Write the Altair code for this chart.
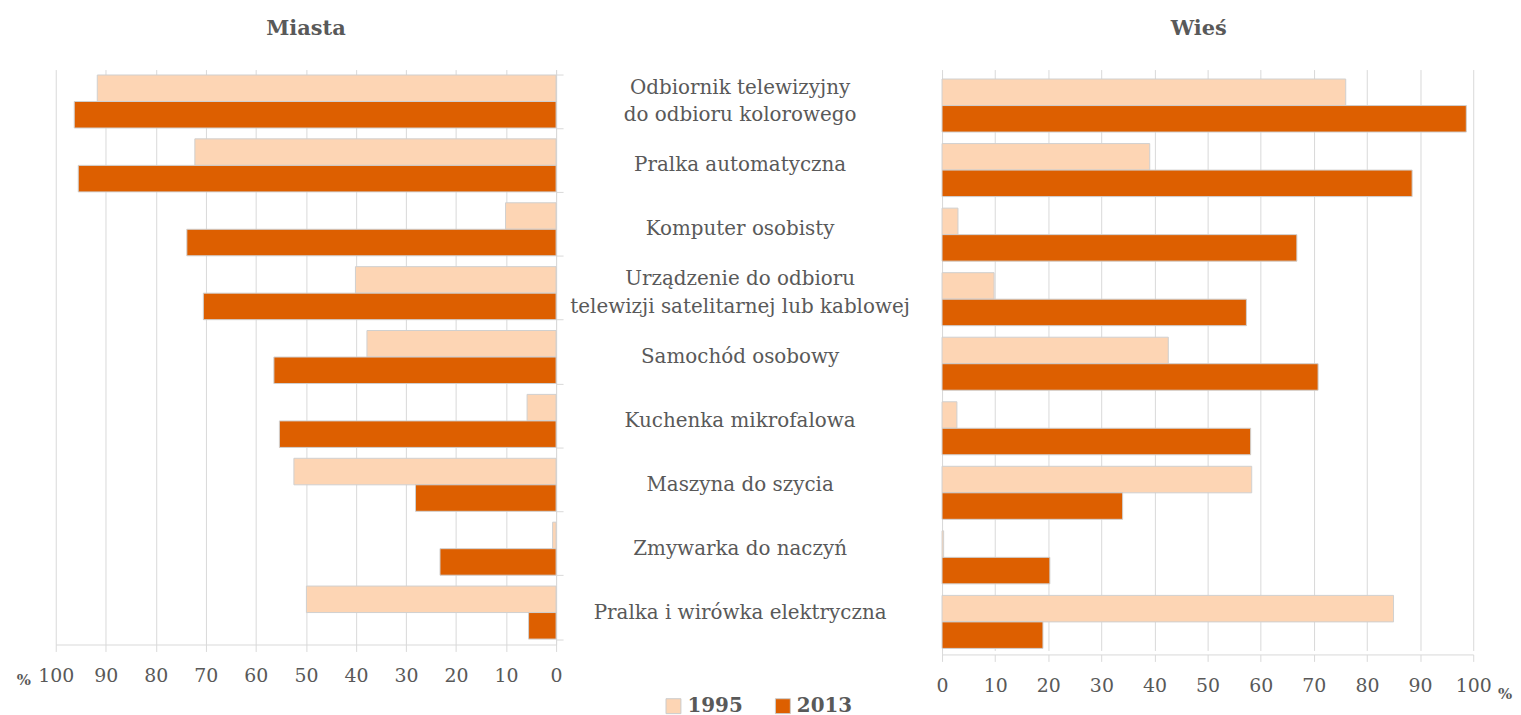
import altair as alt
import pandas as pd

# ---- data ----
cat_ids = ["tv", "pralka_auto", "komputer", "sat", "samochod", "mikrofala", "szycie", "zmywarka", "wirowka"]
cat_labels = [
    "Odbiornik telewizyjny\ndo odbioru kolorowego",
    "Pralka automatyczna",
    "Komputer osobisty",
    "Urządzenie do odbioru\ntelewizji satelitarnej lub kablowej",
    "Samochód osobowy",
    "Kuchenka mikrofalowa",
    "Maszyna do szycia",
    "Zmywarka do naczyń",
    "Pralka i wirówka elektryczna",
]
years = ["1995", "2013"]
miasta_1995 = [91.7, 72.2, 10.1, 40.1, 37.8, 5.8, 52.4, 0.7, 49.9]
miasta_2013 = [96.3, 95.5, 73.8, 70.5, 56.4, 55.3, 28.1, 23.2, 5.5]
wies_1995 = [76.0, 39.1, 3.0, 9.8, 42.6, 2.8, 58.3, 0.3, 85.0]
wies_2013 = [98.7, 88.5, 66.8, 57.3, 70.8, 58.1, 34.0, 20.3, 19.0]
tick_values = [0, 10, 20, 30, 40, 50, 60, 70, 80, 90, 100]

def long(v95, v13):
    rows = []
    for i, c in enumerate(cat_ids):
        rows.append({"cat": c, "year": "1995", "value": v95[i]})
        rows.append({"cat": c, "year": "2013", "value": v13[i]})
    return pd.DataFrame(rows)

df_m = long(miasta_1995, miasta_2013)
df_w = long(wies_1995, wies_2013)
df_lab = pd.DataFrame({"cat": cat_ids, "label": cat_labels,
                       "lines": [l.count("\n") + 1 for l in cat_labels]})

FONT = "DejaVu Serif"
GREY = "#595959"
GRID = "#d9d9d9"
LIGHT = "#FDD5B4"
DARK = "#DD5F00"

color = alt.Color(
    "year:N",
    scale=alt.Scale(domain=years, range=[LIGHT, DARK]),
    legend=alt.Legend(
        title=None, orient="none", direction="horizontal",
        legendX=611, legendY=630,
        symbolType="square", symbolSize=225, symbolStrokeColor="#cccccc",
        symbolStrokeWidth=1, labelFont=FONT, labelFontSize=20,
        labelFontWeight="bold", labelColor=GREY, columnPadding=30,
        labelOffset=4, padding=0,
    ),
)

def yenc(orient, ticks, rng=None):
    sc = alt.Scale(paddingInner=0.17, paddingOuter=0.085)
    if rng is not None:
        sc = alt.Scale(paddingInner=0.17, paddingOuter=0.085, range=rng)
    return alt.Y(
        "cat:N", sort=cat_ids, scale=sc,
        axis=alt.Axis(orient=orient, labels=False, ticks=ticks, tickSize=7,
                      tickBand="extent", tickColor=GRID, domainColor=GRID,
                      title=None, grid=False),
    )

def xaxis():
    return alt.Axis(values=tick_values, grid=True, gridColor=GRID, domainColor=GRID,
                    tickColor=GRID, tickSize=7, labelPadding=15, labelFont=FONT,
                    labelFontSize=19, labelColor=GREY, title=None, labelFlush=False)

LW, LH = 503, 578
RW, RH = 534, 588

left_bars = alt.Chart(df_m).mark_bar(stroke="#d0d0d0", strokeWidth=1).encode(
    x=alt.X("value:Q", scale=alt.Scale(domain=[0, 100], reverse=True, nice=False), axis=xaxis()),
    y=yenc("right", True),
    yOffset=alt.YOffset("year:N", sort=years),
    color=color,
)
left_pct = alt.Chart(pd.DataFrame({"t": ["%"]})).mark_text(
    font=FONT, fontSize=15, fontWeight="bold", color=GREY, baseline="middle", align="center"
).encode(text="t:N", x=alt.value(-32), y=alt.value(LH + 36))

left = alt.layer(left_bars, left_pct).properties(
    width=LW, height=LH,
    title=alt.TitleParams("Miasta", font=FONT, fontSize=21, fontWeight="bold",
                          color=GREY, anchor="middle", offset=31),
)

mid_y = alt.Y("cat:N", sort=cat_ids,
              scale=alt.Scale(paddingInner=0.17, paddingOuter=0.085), axis=None)
mid_base = alt.Chart(df_lab).encode(y=mid_y, x=alt.value(177), text="label:N")
mid_one = mid_base.transform_filter("datum.lines == 1").mark_text(
    font=FONT, fontSize=20, color=GREY, baseline="middle", align="center",
)
mid_two = mid_base.transform_filter("datum.lines == 2").mark_text(
    font=FONT, fontSize=20, color=GREY, lineBreak="\n", lineHeight=28,
    baseline="middle", align="center", dy=-14,
)
mid = alt.layer(mid_one, mid_two).properties(
    width=373, height=LH,
    title=alt.TitleParams(" ", font=FONT, fontSize=21, offset=31),
)

right_bars = alt.Chart(df_w).mark_bar(stroke="#d0d0d0", strokeWidth=1).encode(
    x=alt.X("value:Q", scale=alt.Scale(domain=[0, 100], nice=False), axis=xaxis()),
    y=yenc("left", False, [4, RH]),
    yOffset=alt.YOffset("year:N", sort=years),
    color=color,
)
right_pct = alt.Chart(pd.DataFrame({"t": ["%"]})).mark_text(
    font=FONT, fontSize=15, fontWeight="bold", color=GREY, baseline="middle", align="center"
).encode(text="t:N", x=alt.value(RW + 32), y=alt.value(RH + 40))

right = alt.layer(right_bars, right_pct).properties(
    width=RW, height=RH,
    title=alt.TitleParams("Wieś", font=FONT, fontSize=21, fontWeight="bold",
                          color=GREY, anchor="middle", offset=31, dx=-9),
)

chart = alt.hconcat(left, mid, right, spacing=0).properties(
    padding={"left": 8, "top": 8, "right": 0, "bottom": 0},
    background="white",
).configure_view(stroke="transparent", strokeWidth=0)

chart.save("out.html", embed_options={"renderer": "svg", "actions": False})
